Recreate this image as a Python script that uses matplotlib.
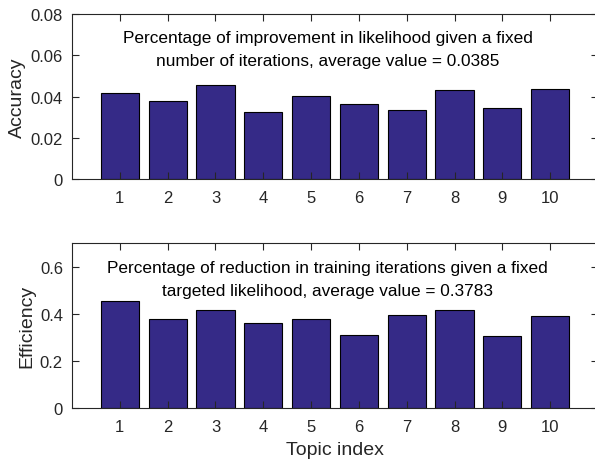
import matplotlib

matplotlib.use("Agg")
import matplotlib.pyplot as plt

# values
topics = [1, 2, 3, 4, 5, 6, 7, 8, 9, 10]
accuracy = [0.0415, 0.0378, 0.0456, 0.0323, 0.0404, 0.0362, 0.0335, 0.0430, 0.0346, 0.0435]
efficiency = [0.454, 0.377, 0.417, 0.360, 0.378, 0.312, 0.393, 0.417, 0.305, 0.389]

acc_ticks = [0, 0.02, 0.04, 0.06, 0.08]
acc_ticklabels = ["0", "0.02", "0.04", "0.06", "0.08"]
eff_ticks = [0, 0.2, 0.4, 0.6]
eff_ticklabels = ["0", "0.2", "0.4", "0.6"]

acc_note = ("Percentage of improvement in likelihood given a fixed\n"
            "number of iterations, average value = 0.0385")
eff_note = ("Percentage of reduction in training iterations given a fixed\n"
            "targeted likelihood, average value = 0.3783")

plt.rcParams["font.family"] = ["Liberation Sans", "DejaVu Sans"]

BAR_COLOR = "#352a87"
AX_COLOR = "#262626"

fig = plt.figure(figsize=(5.95, 4.64), dpi=100)
ax_top = fig.add_axes([0.121, 0.612, 0.884, 0.3556])
ax_bot = fig.add_axes([0.121, 0.118, 0.884, 0.3562])

panels = [
    (ax_top, accuracy, (0, 0.08), acc_ticks, acc_ticklabels, "Accuracy", acc_note, 0.0630),
    (ax_bot, efficiency, (0, 0.7), eff_ticks, eff_ticklabels, "Efficiency", eff_note, 0.547),
]

for ax, vals, ylim, yt, ytl, ylab, note, note_y in panels:
    ax.bar(topics, vals, width=0.8, color=BAR_COLOR, edgecolor="black", linewidth=0.8)
    ax.set_xlim(0, 11)
    ax.set_ylim(*ylim)
    ax.set_xticks(topics)
    ax.set_yticks(yt)
    ax.set_yticklabels(ytl)
    ax.set_ylabel(ylab, fontsize=14, color=AX_COLOR, labelpad=3)
    ax.tick_params(direction="in", top=True, right=True, length=5, width=0.8,
                   labelsize=12, colors=AX_COLOR)
    ax.tick_params(axis="x", pad=8)
    ax.tick_params(axis="y", pad=6.5)
    for sp in ax.spines.values():
        sp.set_color(AX_COLOR)
        sp.set_linewidth(0.8)
    ax.text(5.35, note_y, note, ha="center", va="center", fontsize=12.4,
            color="black", linespacing=1.65)

ax_bot.set_xlabel("Topic index", fontsize=14, color=AX_COLOR, labelpad=5)

fig.savefig("out.png", dpi=100)
plt.close(fig)
